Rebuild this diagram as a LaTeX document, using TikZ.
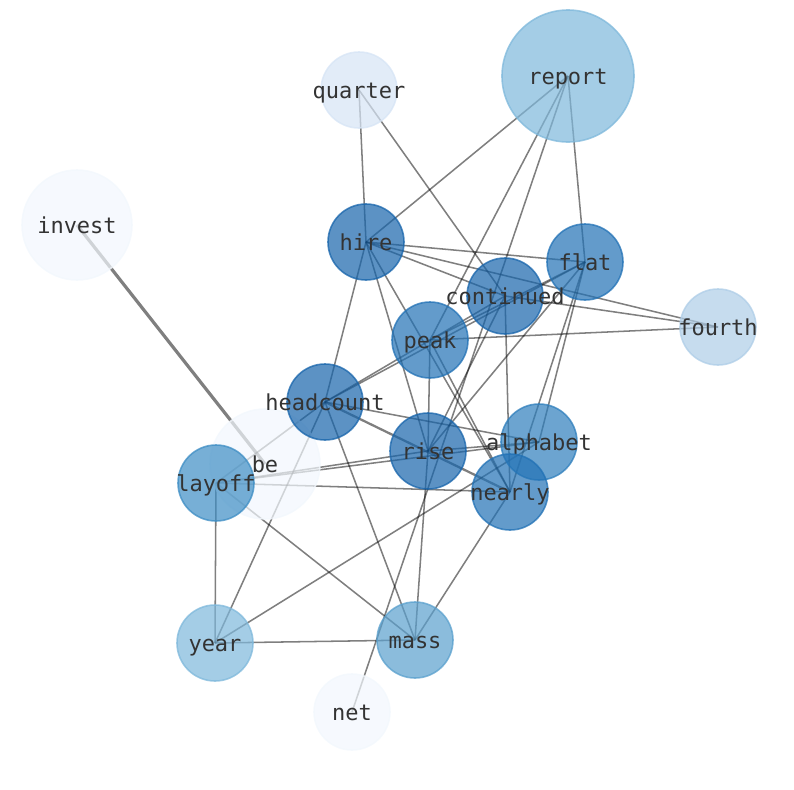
\documentclass[tikz,border=0pt]{standalone}
\usepackage{fontspec}
\setmonofont{DejaVu Sans Mono}
\usepackage{xcolor}
\usepackage{tikz}
\usetikzlibrary{backgrounds}

\definecolor{bl1}{HTML}{1764AB}
\definecolor{bl2}{HTML}{2171B5}
\definecolor{bl3}{HTML}{2E7EBC}
\definecolor{bl4}{HTML}{3D8DC4}
\definecolor{bl5}{HTML}{5AA0CD}
\definecolor{bl6}{HTML}{7EB8DB}
\definecolor{bl7}{HTML}{AECDE7}
\definecolor{bl8}{HTML}{D6E4F5}
\definecolor{bl9}{HTML}{F2F7FD}

\newcommand{\wlabel}[1]{\makebox[0pt]{#1}}

\tikzset{
  %% Word disc
  word/.style={
    circle, fill=#1, draw=#1,
    fill opacity=0.7, draw opacity=0.75, text opacity=1,
    text=black!80, font=\ttfamily\fontsize{16.5}{18}\selectfont,
    text height=14pt, text depth=1pt,
    minimum size=57pt, inner sep=0pt, line width=1.2pt
  },
  word/.default=bl1,
  %% Co-occurrence link
  link/.style={draw=black, draw opacity=0.5, line width=1.15pt},
}

\begin{document}
\begin{tikzpicture}[x=0.75pt, y=-0.75pt]
  \useasboundingbox (0,0) rectangle (794,790);

  %% Words
  \node[word=bl9, minimum size=82.5pt] (invest)    at (77,225)  {\wlabel{invest}};
  \node[word=bl9, minimum size=82.5pt] (be)        at (265,464) {\wlabel{be}};
  \node[word=bl6, minimum size=99pt]   (report)    at (568,76)  {\wlabel{report}};
  \node[word=bl8]                      (quarter)   at (359,90)  {\wlabel{quarter}};
  \node[word]                          (hire)      at (366,242) {\wlabel{hire}};
  \node[word=bl2]                      (flat)      at (585,262) {\wlabel{flat}};
  \node[word]                          (continued) at (505,296) {\wlabel{continued}};
  \node[word=bl7]                      (fourth)    at (718,327) {\wlabel{fourth}};
  \node[word=bl2]                      (peak)      at (430,340) {\wlabel{peak}};
  \node[word]                          (headcount) at (325,402) {\wlabel{headcount}};
  \node[word=bl3]                      (alphabet)  at (539,442) {\wlabel{alphabet}};
  \node[word]                          (rise)      at (428,451) {\wlabel{rise}};
  \node[word=bl4]                      (layoff)    at (216,483) {\wlabel{layoff}};
  \node[word=bl2]                      (nearly)    at (510,492) {\wlabel{nearly}};
  \node[word=bl6]                      (year)      at (215,643) {\wlabel{year}};
  \node[word=bl5]                      (mass)      at (415,640) {\wlabel{mass}};
  \node[word=bl9]                      (net)       at (352,712) {\wlabel{net}};

  %% Links, under the discs
  \begin{scope}[on background layer]
    \foreach \a/\b in {quarter/hire, quarter/continued, report/hire,
        report/peak, report/flat, report/net, hire/flat, hire/fourth,
        hire/continued, hire/headcount, hire/rise, hire/nearly,
        continued/fourth, peak/fourth, peak/rise, peak/nearly, peak/flat,
        headcount/continued, headcount/flat, headcount/alphabet,
        headcount/layoff, headcount/year, headcount/mass,
        continued/rise, continued/nearly, flat/rise, flat/alphabet,
        flat/nearly, layoff/rise, layoff/alphabet, layoff/nearly,
        layoff/year, layoff/mass, rise/alphabet, rise/mass,
        year/alphabet, year/mass, mass/nearly}
      \draw[link] (\a.center) -- (\b.center);
    \draw[link, line width=1.7pt] (headcount.center) -- (nearly.center);
    \draw[link, line width=2.4pt] (invest.center) -- (be.center);
  \end{scope}
\end{tikzpicture}
\end{document}
